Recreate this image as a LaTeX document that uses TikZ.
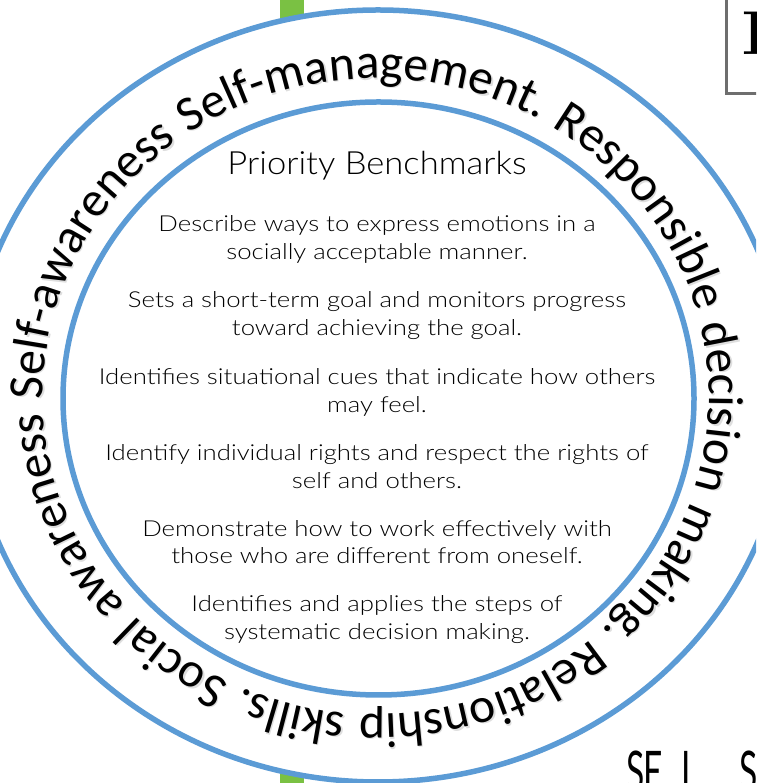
\documentclass[tikz,border=0pt]{standalone}
\usepackage{fontspec}
\usetikzlibrary{decorations.text}
\newfontfamily\ringfont{Carlito}
\newfontfamily\handfont{Lato Light}[FakeStretch=1.17]
\newfontfamily\headfont{Lato Light}[FakeStretch=1.08]
\newfontfamily\labelfont{Lato}[FakeStretch=0.6]
\definecolor{ringblue}{HTML}{5B9BD5}
\definecolor{bargreen}{HTML}{7AC143}
\definecolor{boxgray}{HTML}{6E6E6E}

\begin{document}
\begin{tikzpicture}[x=1pt,y=1pt,
  ring/.style={draw=ringblue, line width=5.5pt},
  titletext/.style={font=\headfont\fontsize{32}{32}\selectfont, anchor=base, inner sep=0pt},
  benchline/.style={font=\handfont\fontsize{22}{22}\selectfont, anchor=base, inner sep=0pt},
  ringtext/.style={decorate, decoration={text along path,
      text align={fit to path stretching spaces}, text color=#1,
      text={|\ringfont\fontsize{49.4}{49.4}\selectfont|Self-awareness Self-management. Responsible decision making. Relationship skills. Social awareness}}},
  ringtext/.default=black,
  sel/.style={font=\labelfont\fontsize{56}{56}\selectfont, anchor=north west, inner sep=0pt},
]
\useasboundingbox (0,0) rectangle (756,783);
\clip (0,0) rectangle (756,783);
\fill[white] (0,0) rectangle (756,783);

% green divider running behind the ring
\fill[bargreen] (280,0) rectangle (304,783);

% outer and inner rings
\filldraw[ring, fill=white] (378,387) ellipse [x radius=410, y radius=386];
\draw[ring] (378.5,384.5) ellipse [x radius=315.5, y radius=296.5];

% the five competencies written round the ring, with a soft shadow
\path[ringtext=black!13, shift={(1.3,-1.3)}]
  (376,386.5) ++(180.5:333 and 318) arc[start angle=180.5, end angle=-177, x radius=333, y radius=318];
\path[ringtext]
  (376,386.5) ++(180.5:333 and 318) arc[start angle=180.5, end angle=-177, x radius=333, y radius=318];

% benchmarks inside the ring
\node[titletext] (title) at (377,608) {Priority Benchmarks};
\node[benchline] (b1a) at (377,551) {Describe ways to express emotions in a};
\node[benchline] (b1b) at (377,523) {socially acceptable manner.};
\node[benchline] (b2a) at (377,475) {Sets a short-term goal and monitors progress};
\node[benchline] (b2b) at (377,447) {toward achieving the goal.};
\node[benchline] (b3a) at (377,398) {Identifies situational cues that indicate how others};
\node[benchline] (b3b) at (377,370) {may feel.};
\node[benchline] (b4a) at (377,322) {Identify individual rights and respect the rights of};
\node[benchline] (b4b) at (377,294) {self and others.};
\node[benchline] (b5a) at (377,246) {Demonstrate how to work effectively with};
\node[benchline] (b5b) at (377,219) {those who are different from oneself.};
\node[benchline] (b6a) at (377,171) {Identifies and applies the steps of};
\node[benchline] (b6b) at (377,143) {systematic decision making.};

% neighbouring panel at the top right
\filldraw[draw=boxgray, fill=white, line width=3.5pt] (726.5,689.5) rectangle (800,800);
\node[font=\bfseries\fontsize{62}{62}\selectfont, anchor=north west, inner sep=0pt] (panel) at (742,771) {I};

% heading starting at the bottom right
\node[sel] (selS) at (626,32) {S};
\node[sel] (selE) at (643,32) {E};
\node[sel] (selL) at (681,32) {L};
\node[sel] (selC) at (739,32) {S};
\end{tikzpicture}
\end{document}
